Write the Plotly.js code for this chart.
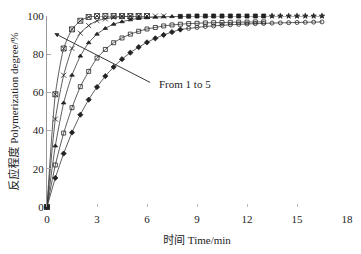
<!DOCTYPE html>
<html><head><meta charset="utf-8">
<script src="https://cdn.plot.ly/plotly-3.0.1.min.js"></script>
<style>html,body{margin:0;padding:0;background:#fff}#c{width:361px;height:254px}</style>
</head><body><div id="c"></div>
<script>
// time axes (min)
const t1 = [0,0.5,1,1.5,2,2.5,3,3.5,4,4.5,5,5.5,6];
const t2 = [0,0.5,1,1.5,2,2.5,3,3.5,4,4.5,5,5.5,6,6.5,7];
const t3 = [0,0.5,1,1.5,2,2.5,3,3.5,4,4.5,5,5.5,6,6.5,7,7.5,8,8.5,9,9.5,10,10.5,11,11.5,12,12.5,13,13.5,14,14.5,15,15.5,16,16.5];
const t4 = [0,0.5,1,1.5,2,2.5,3,3.5,4,4.5,5,5.5,6,6.5,7,7.5,8,8.5,9,9.5,10,10.5,11,11.5,12,12.5,13];
const t5 = [0,0.5,1,1.5,2,2.5,3,3.5,4,4.5,5,5.5,6,6.5,7,7.5,8,8.5,9,9.5,10,10.5,11,11.5,12,12.5,13,13.5,14,14.5,15,15.5,16,16.5];
// polymerization degree (%)
const y1 = [0,59,83,93,97.5,99.5,100,100,100,100,100,100,100];
const y2 = [0,46,69,83,91,95,97.5,98.5,99.3,99.6,99.8,100,100,100,100];
const y3 = [0,32,54.5,69,79,86,90.5,93.5,95.7,97,98,98.7,99.1,99.4,99.6,99.7,99.8,99.9,100,100,100,100,100,100,100,100,100,100,100,100,100,100,100,100];
const y4 = [0,22,38.7,52,63,71,78,82.5,86,88.5,90.5,92,93.2,94,94.8,95.3,95.7,96,96.2,96.4,96.5,96.6,96.7,96.8,96.8,96.9,96.9];
const y5 = [0,15.2,28,39,48.3,56.2,62.8,68.5,73.3,77.4,80.8,83.7,86.2,88.3,90.1,91.6,92.9,93.5,94,94.5,94.8,95.1,95.4,95.6,95.8,96,96.1,96.3,96.4,96.5,96.6,96.7,96.8,96.9];
const xTicks = [0,3,6,9,12,15,18];
const yTicks = [0,20,40,60,80,100];
const xTitle = '时间 Time/min';
const yTitle = '反应程度 Polymerization degree/%';
const note = 'From 1 to 5';

const serif = 'Liberation Serif, Noto Sans CJK SC, serif';
const ln = {color:'#333', width:0.8, shape:'spline', smoothing:0.6};
function tr(x, y, sym, size){
  return {x:x, y:y, type:'scatter', mode:'lines+markers', line:ln, cliponaxis:false,
    marker:{symbol:sym, size:size, color:'#222', line:{color:'#222', width:0.8}}, showlegend:false};
}
const sym3 = t3.map(v => v < 8 ? 'triangle-up' : (v < 13.5 ? 'square' : 'star'));
const sym5 = t5.map(v => v <= 8 ? 'diamond' : 'circle-open');
const data = [
  tr(t1, y1, 'square-x-open', 5),
  tr(t2, y2, 'x-thin-open', 5),
  tr(t3, y3, sym3, 4),
  tr(t4, y4, 'square-open', 4),
  tr(t5, y5, sym5, 4)
];
const layout = {
  width:361, height:254,
  margin:{l:47, r:14, t:16, b:47},
  paper_bgcolor:'#fff', plot_bgcolor:'#fff',
  font:{family:serif, size:11, color:'#222'},
  xaxis:{range:[0,18], tickvals:xTicks, ticktext:xTicks.map(String), showgrid:false, zeroline:false,
    showline:false, ticks:'inside', ticklen:3, tickcolor:'#bbb', ticklabelstandoff:4,
    title:{text:xTitle, font:{family:serif, size:11, color:'#222'}, standoff:12}},
  yaxis:{range:[0,100], tickvals:yTicks, ticktext:yTicks.map(String), showgrid:false, zeroline:false,
    showline:true, linecolor:'#999', linewidth:1, ticks:'inside', ticklen:4, tickcolor:'#aaa',
    title:{text:yTitle, font:{family:serif, size:11, color:'#222'}, standoff:6}},
  annotations:[
    {x:0.44, y:91, ax:6.28, ay:64.8, xref:'x', yref:'y', axref:'x', ayref:'y', showarrow:true,
     arrowhead:2, arrowsize:1, arrowwidth:0.9, arrowcolor:'#222', text:''},
    {x:6.6, y:64.5, xref:'x', yref:'y', text:note, showarrow:false, xanchor:'left', yanchor:'middle',
     font:{family:serif, size:11, color:'#222'}}
  ]
};
Plotly.newPlot('c', data, layout, {displayModeBar:false, staticPlot:true});
</script></body></html>
